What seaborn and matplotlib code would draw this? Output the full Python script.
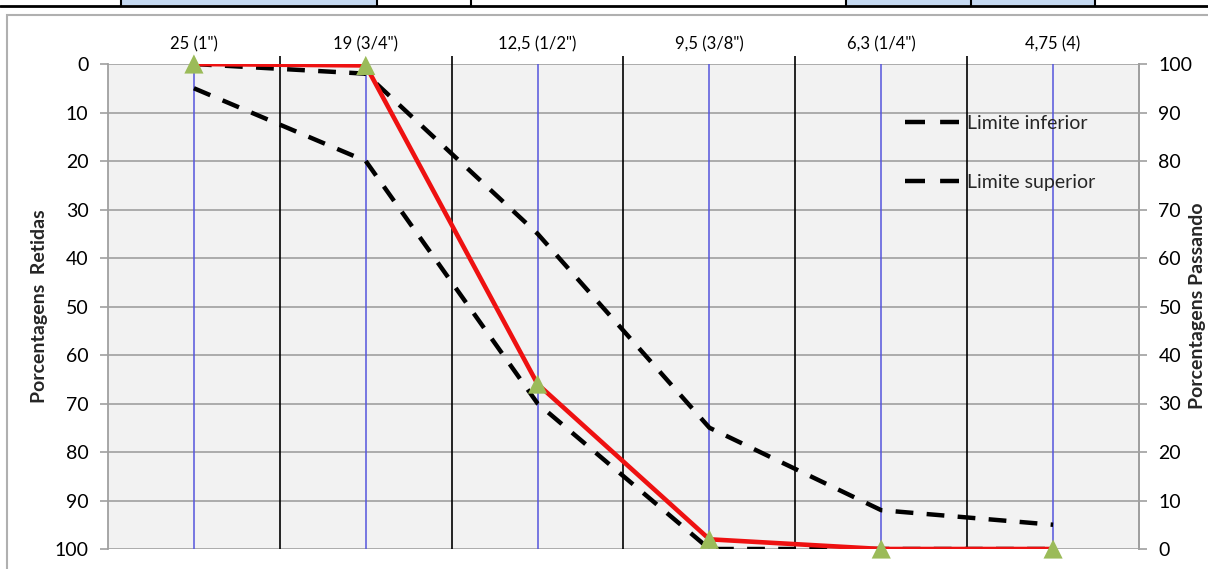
import numpy as np
import pandas as pd
import seaborn as sns
import matplotlib.pyplot as plt
from matplotlib.patches import Rectangle
from matplotlib.lines import Line2D

# data (percent retained, axis inverted)
peneiras = ['25 (1")', '19 (3/4")', '12,5 (1/2")', '9,5 (3/8")', '6,3 (1/4")', '4,75 (4)']
retida_amostra = [0, 0.3, 66, 98, 100, 100]
limite_inferior = [5, 20, 70, 100, 100, 100]
limite_superior = [0, 2, 35, 75, 92, 95]
yticks_retidas = [0, 10, 20, 30, 40, 50, 60, 70, 80, 90, 100]

sns.set_style('white')
plt.rcParams['font.family'] = ['Lato', 'DejaVu Sans']

W, H = 1208, 569
fig = plt.figure(figsize=(W / 100, H / 100), dpi=100)

# fragment of the spreadsheet table above the chart
for x0, x1 in [(121, 377), (846, 971), (971, 1095)]:
    fig.patches.append(Rectangle((x0 / W, 1 - 5 / H), (x1 - x0) / W, 5 / H,
                                 transform=fig.transFigure, facecolor='#c5d9f1',
                                 edgecolor='none', zorder=-2))
fig.add_artist(Line2D([0, 1], [1 - 5.5 / H, 1 - 5.5 / H], transform=fig.transFigure,
                      color='black', lw=2))
for xv in [121, 377, 471, 846, 971, 1095]:
    fig.add_artist(Line2D([xv / W, xv / W], [1 - 6 / H, 1], transform=fig.transFigure,
                          color='black', lw=1.5))

# chart frame
fig.patches.append(Rectangle((7 / W, -0.05), 1.1, 1 - 15 / H + 0.05,
                             transform=fig.transFigure, facecolor='white',
                             edgecolor='#b0b0b0', lw=1.5, zorder=-2))

ax = fig.add_axes([108 / W, 20 / H, (1139 - 108) / W, (549 - 64) / H])
ax.set_facecolor('#f2f2f2')
x_pos = np.arange(len(peneiras))

df = pd.DataFrame({'pos': x_pos, 'amostra': retida_amostra,
                   'inf': limite_inferior, 'sup': limite_superior})

# vertical guide lines
for xp in x_pos:
    ax.axvline(xp, color='#5555dd', lw=1.1, zorder=1)
for xp in x_pos[:-1]:
    ax.axvline(xp + 0.5, color='black', lw=1.2, zorder=1)

sns.lineplot(data=df, x='pos', y='inf', ax=ax, color='black', lw=3.2,
             zorder=3, label='Limite inferior')
sns.lineplot(data=df, x='pos', y='sup', ax=ax, color='black', lw=3.2,
             zorder=3, label='Limite superior')
for line in ax.get_lines()[-2:]:
    line.set_dashes((4, 3))
sns.lineplot(data=df, x='pos', y='amostra', ax=ax, color='#ee1111', lw=3.3,
             zorder=4, legend=False)
sns.scatterplot(data=df, x='pos', y='amostra', ax=ax, color='#9bbb59', marker='^',
                s=190, edgecolor='none', zorder=5, legend=False, clip_on=False)

ax.set_xlim(-0.5, 5.5)
ax.set_ylim(100, 0)
ax.set_yticks(yticks_retidas)
ax.yaxis.grid(True, color='#a6a6a6', lw=1.3, zorder=0)
ax.set_axisbelow(True)
ax.xaxis.tick_top()
ax.set_xticks(x_pos, peneiras)
ax.set_xticks(x_pos[:-1] + 0.5, minor=True)
ax.tick_params(axis='x', which='major', length=0, pad=8, labelsize=12, colors='black')
ax.tick_params(axis='x', which='minor', length=6, width=1.2, color='black', top=True)
ax.tick_params(axis='y', length=6, width=1.2, color='#a0a0a0', pad=8, labelsize=14,
               labelcolor='black', left=True)
for s in ['top', 'bottom']:
    ax.spines[s].set_visible(False)
for s in ['left', 'right']:
    ax.spines[s].set_color('#a0a0a0')
    ax.spines[s].set_linewidth(1.3)
ax.set_xlabel('')
ax.set_ylabel('Porcentagens  Retidas', fontsize=14, fontweight='bold', labelpad=5)

ax2 = ax.twinx()
ax2.set_ylim(0, 100)
ax2.set_yticks(yticks_retidas)
ax2.tick_params(axis='y', length=6, width=1.2, color='#a0a0a0', pad=8, labelsize=14,
                labelcolor='black', right=True)
for s in ['top', 'bottom', 'left']:
    ax2.spines[s].set_visible(False)
ax2.spines['right'].set_color('#a0a0a0')
ax2.spines['right'].set_linewidth(1.3)
fig.text(1197 / W, 1 - 306 / H, 'Porcentagens Passando', rotation=90, ha='center',
         va='center', fontsize=14, fontweight='bold')

leg = ax.legend(loc='upper left', bbox_to_anchor=(797 / 1031, 1 - 51 / 485),
                frameon=False, fontsize=14, labelspacing=2.15, handlelength=2.8,
                handletextpad=0.4, borderpad=0, borderaxespad=0)
for h in leg.get_lines():
    h.set_dashes((4.5, 3.4))

fig.savefig('out.png', dpi=100)
